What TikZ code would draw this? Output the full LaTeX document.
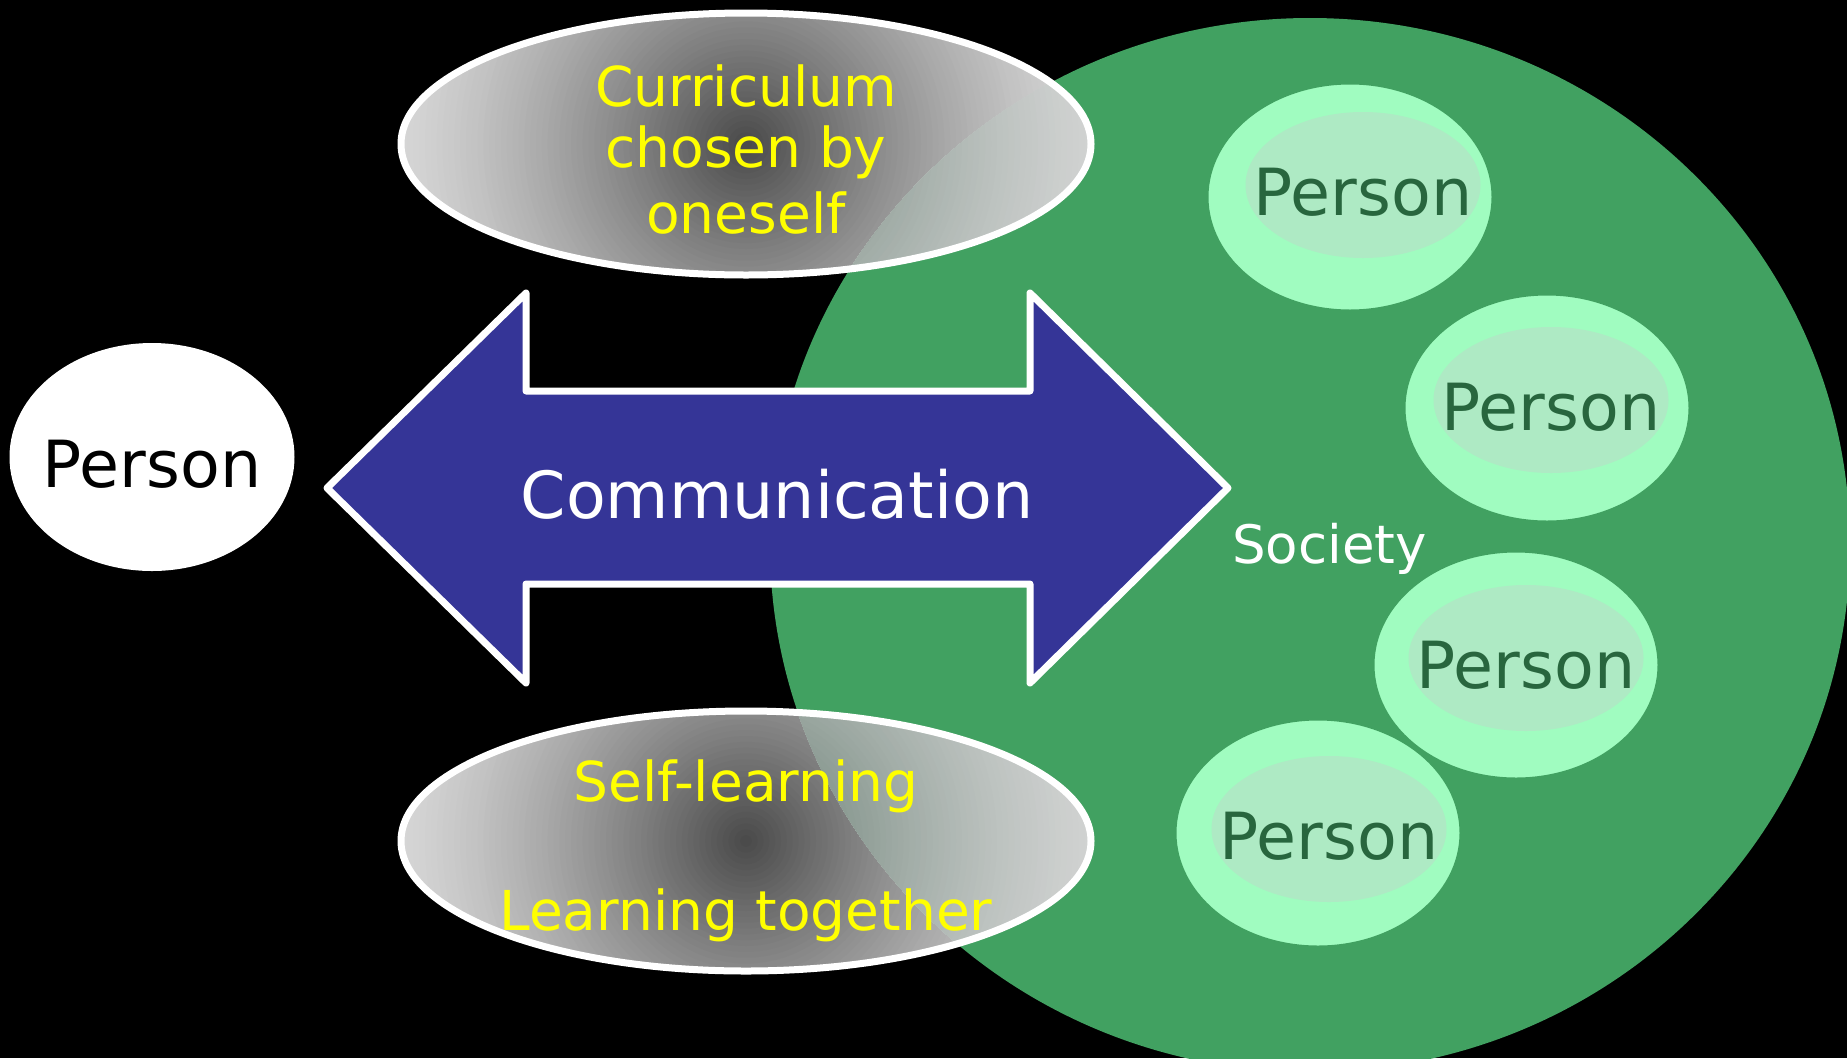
\documentclass[tikz,border=0pt]{standalone}
\usepackage{fontspec}
\setmainfont{DejaVu Sans}
\usetikzlibrary{shapes.geometric}
\definecolor{society}{RGB}{65,161,97}
\definecolor{arrowblue}{RGB}{53,53,151}
\definecolor{pouter}{RGB}{160,252,192}
\definecolor{pinner}{RGB}{174,234,196}
\definecolor{ptext}{RGB}{40,102,62}
\definecolor{ylw}{RGB}{255,255,0}
\definecolor{gin}{RGB}{72,72,72}
\definecolor{gout}{RGB}{214,214,214}
\definecolor{ginG}{RGB}{101,124,112}
\definecolor{goutG}{RGB}{208,210,209}
\begin{document}
\begin{tikzpicture}[x=1pt,y=-1pt,
  lbl/.style={inner sep=0pt, anchor=base},
  yel/.style={lbl, text=ylw, font=\fontsize{55}{66}\selectfont},
  pers/.style={lbl, text=ptext, font=\fontsize{65}{78}\selectfont},
  pout/.style={ellipse, fill=pouter, draw=society, line width=3pt,
    minimum width=286pt, minimum height=228pt, inner sep=0pt},
  pin/.style={ellipse, fill=pinner, minimum width=235pt,
    minimum height=146pt, inner sep=0pt},
  grayring/.style={white, line width=7pt},
]
\useasboundingbox (0,0) rectangle (1847,1058);
\fill[black] (0,0) rectangle (1847,1058);
\clip (0,0) rectangle (1847,1058);

% society
\fill[society] (1310,545) ellipse [x radius=540pt, y radius=527pt];

% gray ellipses: circular stepped gradient, clipped to the ellipse
\foreach \cy/\ry in {144/131, 841/130} {
  \begin{scope}
    \clip (746,\cy) ellipse [x radius=345pt, y radius=\ry pt];
    \foreach \k in {0,...,59} {
      \pgfmathsetmacro\rr{1-\k/60}
      \pgfmathsetmacro\pp{100*((\k+0.01)/60.01)^1.3}
      \fill[gin!\pp!gout] (746,\cy) circle [radius={350pt*\rr}];
    }
    \clip (1310,545) ellipse [x radius=540pt, y radius=527pt];
    \foreach \k in {0,...,59} {
      \pgfmathsetmacro\rr{1-\k/60}
      \pgfmathsetmacro\pp{100*((\k+0.01)/60.01)^1.3}
      \fill[ginG!\pp!goutG] (746,\cy) circle [radius={350pt*\rr}];
    }
  \end{scope}
  \draw[grayring] (746,\cy) ellipse [x radius=345pt, y radius=\ry pt];
}

\node[yel] (c1) at (746,106) {Curriculum};
\node[yel] (c2) at (746,167) {chosen by};
\node[yel] (c3) at (746,233) {oneself};
\node[yel] (s1) at (746,801) {Self-learning};
\node[yel] (s2) at (746,930) {Learning together};

% left person
\node[ellipse, fill=white, minimum width=285pt, minimum height=228pt, inner sep=0pt] (lp) at (152,457) {};
\node[lbl, text=black, font=\fontsize{65}{78}\selectfont] (lpt) at (152,487) {Person};

% arrow
\draw[white, line width=7pt, line join=round, fill=arrowblue]
  (327,488) -- (526,293) -- (526,391) -- (1030,391) -- (1030,293) -- (1228,488)
  -- (1030,683) -- (1030,584) -- (526,584) -- (526,683) -- cycle;
\node[lbl, text=white, font=\fontsize{65}{78}\selectfont] (comm) at (777,518) {Communication};

% society persons
\node[pout] (p1o) at (1350,197) {};
\node[pin] (p1i) at (1363,185) {};
\node[pers] (p1) at (1363,215) {Person};

\node[pout] (p2o) at (1547,408) {};
\node[pin] (p2i) at (1551,400) {};
\node[pers] (p2) at (1551,430) {Person};

\node[pout] (p3o) at (1516,665) {};
\node[pin] (p3i) at (1526,658) {};
\node[pers] (p3) at (1526,688) {Person};

\node[pout] (p4o) at (1318,833) {};
\node[pin] (p4i) at (1329,829) {};
\node[pers] (p4) at (1329,859) {Person};

\node[lbl, anchor=base west, text=white, font=\fontsize{53}{64}\selectfont] (soc) at (1232,563) {Society};
\end{tikzpicture}
\end{document}
